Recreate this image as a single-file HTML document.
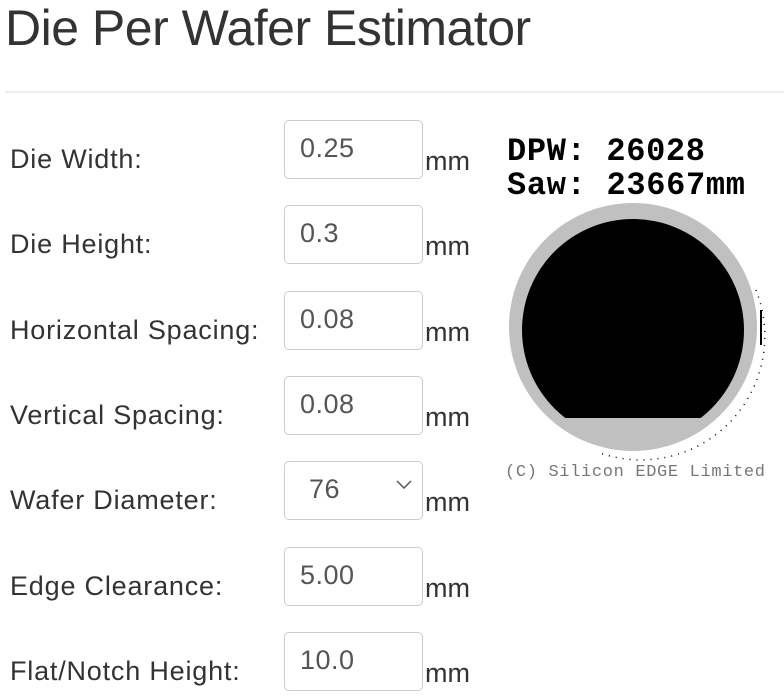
<!DOCTYPE html>
<html><head><meta charset="utf-8"><style>
body{margin:0;width:784px;height:696px;background:#fff;font-family:"Liberation Sans",sans-serif;color:#333;position:relative;overflow:hidden}
h1{position:absolute;left:5px;top:-2px;margin:0;font-size:50px;font-weight:normal;line-height:60px;letter-spacing:-0.5px;color:#333}
.hr{position:absolute;left:5px;right:0;top:91px;height:2px;background:#eee}
.lbl{position:absolute;left:10px;font-size:27px;color:#333;letter-spacing:0.8px}
.inp{position:absolute;left:284px;width:139px;height:59px;border:1px solid #ccc;border-radius:5px;box-sizing:border-box;font-size:27px;color:#555;padding:12px 0 0 15px;letter-spacing:0.5px}
.mm{position:absolute;left:425px;font-size:27px;color:#333}
.chev{position:absolute;right:10px;top:18px}
</style></head><body>
<h1>Die Per Wafer Estimator</h1>
<div class="hr"></div>
<div id="rows"></div>
<svg style="position:absolute;left:490px;top:120px" width="294" height="370">
<text x="17" y="40" font-family="Liberation Mono,monospace" font-size="32" font-weight="bold" fill="#000" textLength="198">DPW: 26028</text>
<text x="17" y="74" font-family="Liberation Mono,monospace" font-size="32" font-weight="bold" fill="#000" textLength="238">Saw: 23667mm</text>
<circle cx="143" cy="207" r="124" fill="#c0c0c0"/>
<clipPath id="cp"><rect x="0" y="98" width="294" height="200"/></clipPath>
<circle cx="143" cy="210" r="111" fill="#000" clip-path="url(#cp)"/>
<line x1="271" y1="190" x2="271" y2="225" stroke="#000" stroke-width="2"/>
<path d="M266 170 A124 124 0 0 1 110 333" fill="none" stroke="#000" stroke-width="1.5" stroke-dasharray="1 6"/>
<text x="15" y="356" font-family="Liberation Mono,monospace" font-size="17" fill="#777" textLength="260">(C) Silicon EDGE Limited</text>
</svg>
<script>
const labels=["Die Width:","Die Height:","Horizontal Spacing:","Vertical Spacing:","Wafer Diameter:","Edge Clearance:","Flat/Notch Height:"];
const values=["0.25","0.3","0.08","0.08","76","5.00","10.0"];
const names=["die-width","die-height","horizontal-spacing","vertical-spacing","wafer-diameter","edge-clearance","flat-notch-height"];
const root=document.getElementById('rows');
labels.forEach((l,i)=>{
 const c=160+i*85.3;
 const a=document.createElement('div');a.className='lbl';a.style.top=(c-16)+'px';a.textContent=l;
 
 
 root.appendChild(a);
 const b=document.createElement('div');b.className='inp';b.style.top=(c-40)+'px';b.textContent=values[i];
 if(i===4){b.style.paddingLeft='24px';b.innerHTML=values[i]+'<svg class="chev" width="16" height="10"><path d="M1 1 L8 8 L15 1" fill="none" stroke="#555" stroke-width="1.5"/></svg>';}
 
 
 root.appendChild(b);
 const m=document.createElement('div');m.className='mm';m.style.top=(c-14)+'px';m.textContent='mm';
 
 
 root.appendChild(m);
});
</script>
</body></html>
